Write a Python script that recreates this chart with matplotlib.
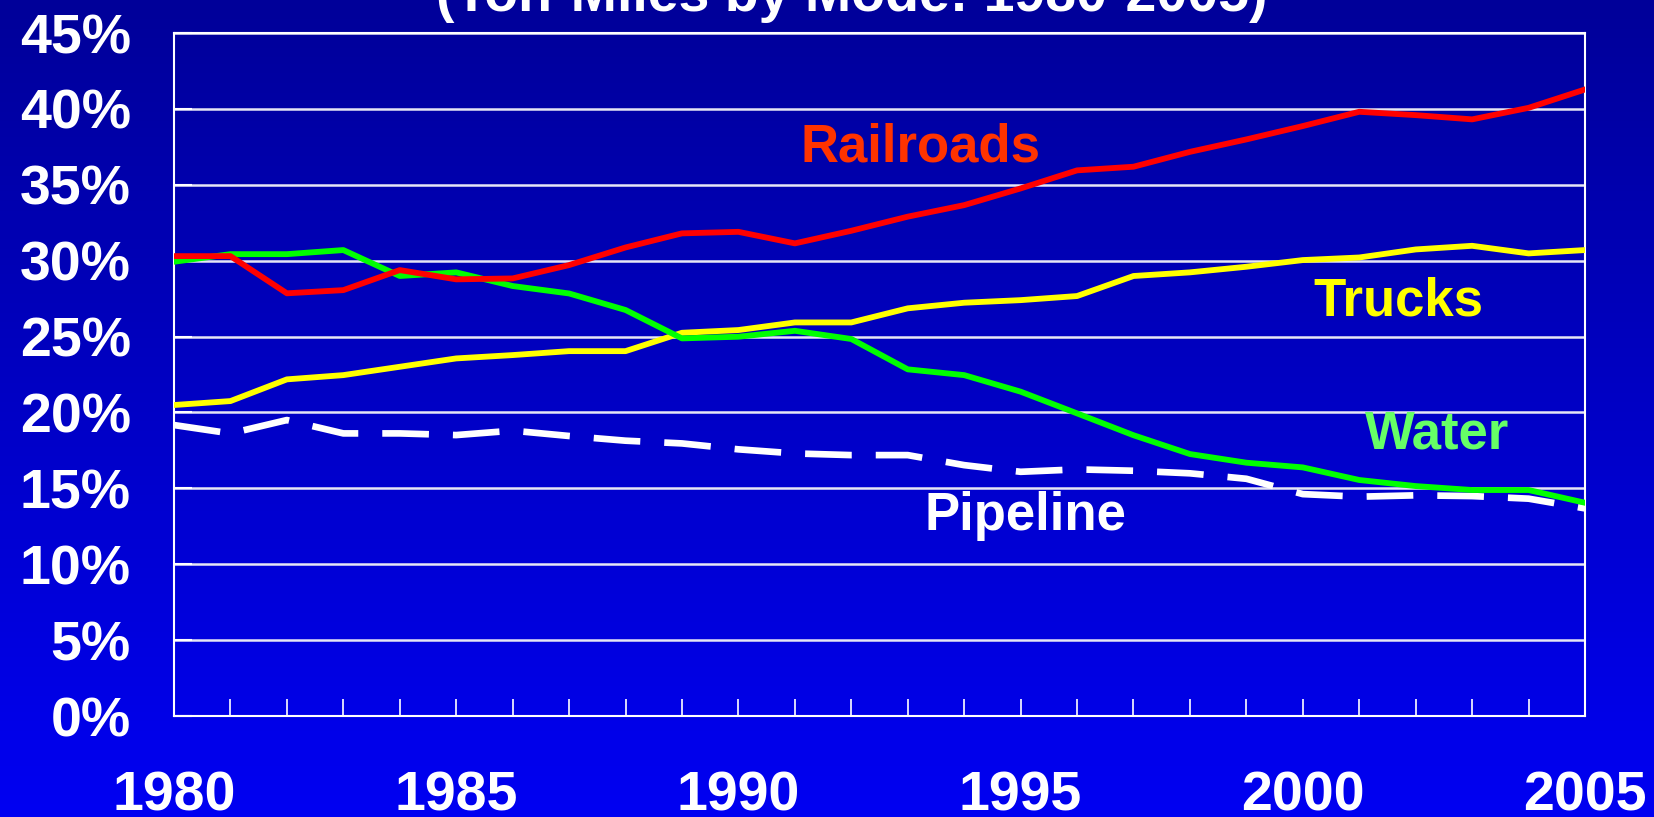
import matplotlib
matplotlib.use("Agg")
import matplotlib.pyplot as plt
import numpy as np

plt.rcParams["font.family"] = ["Liberation Sans", "DejaVu Sans"]
plt.rcParams["font.weight"] = "bold"

# shares of ton-miles by mode, percent
years = list(range(1980, 2006))
railroads = [30.3, 30.3, 27.85, 28.06, 29.38, 28.77, 28.83, 29.71, 30.87, 31.8,
             31.9, 31.14, 31.97, 32.9, 33.66, 34.76, 35.95, 36.19, 37.17, 37.99,
             38.87, 39.81, 39.59, 39.31, 40.07, 41.28]
trucks = [20.49, 20.75, 22.18, 22.46, 23.01, 23.56, 23.78, 24.04, 24.04, 25.25,
          25.43, 25.93, 25.93, 26.86, 27.23, 27.4, 27.67, 28.99, 29.23, 29.6,
          30.04, 30.21, 30.74, 30.98, 30.48, 30.7]
water = [29.93, 30.43, 30.43, 30.7, 28.99, 29.23, 28.33, 27.84, 26.75, 24.88,
         24.99, 25.38, 24.84, 22.84, 22.46, 21.37, 19.94, 18.5, 17.26, 16.69,
         16.38, 15.55, 15.15, 14.89, 14.89, 14.05]
pipeline = [19.17, 18.62, 19.5, 18.62, 18.62, 18.51, 18.8, 18.45, 18.14, 17.96,
            17.57, 17.3, 17.19, 17.19, 16.53, 16.09, 16.25, 16.16, 15.99, 15.63,
            14.62, 14.45, 14.54, 14.49, 14.32, 13.68]

y_ticks = list(range(0, 50, 5))
y_tick_labels = [f"{v}%" for v in y_ticks]
x_ticks = [1980, 1985, 1990, 1995, 2000, 2005]

fig = plt.figure(figsize=(16.54, 8.17), dpi=100)

# gradient background, dark navy at top to bright blue at bottom
bg = fig.add_axes([0, 0, 1, 1], zorder=0)
grad = np.linspace(0, 1, 256).reshape(-1, 1)
top = np.array([0.0, 0.0, 0.60])
bot = np.array([0.0, 0.0, 0.95])
img = top + (bot - top) * grad[..., None]
bg.imshow(img.reshape(256, 1, 3), aspect="auto", extent=[0, 1, 0, 1])
bg.set_axis_off()

ax = fig.add_axes([0.1052, 0.1236, 0.8531, 0.836], zorder=1)
ax.set_facecolor("none")

ax.plot(years, railroads, color="#FF0000", lw=4.2, zorder=4)
ax.plot(years, trucks, color="#FFFF00", lw=4.2, zorder=3)
ax.plot(years, water, color="#00FF00", lw=4.2, zorder=3)
ax.plot(years, pipeline, color="white", lw=4.8, dashes=(7, 3.6), zorder=2)

lab = dict(fontsize=38, fontweight="bold", ha="center", va="baseline")
ax.text(1993.22, 36.56, "Railroads", color="#FF3300", **lab)
ax.text(2001.69, 26.42, "Trucks", color="#FFFF00", **lab)
ax.text(2002.38, 17.64, "Water", color="#66FF66", **lab)
ax.text(1995.09, 12.25, "Pipeline", color="white", **lab)

ax.set_xlim(1980, 2005)
ax.set_ylim(0, 45)
ax.set_yticks(y_ticks)
ax.set_yticklabels(y_tick_labels)
ax.set_xticks(x_ticks)
ax.set_xticks(years, minor=True)
ax.grid(axis="y", color="#E6E6F5", lw=1.8, zorder=1)
ax.tick_params(axis="y", direction="in", length=13, width=1.5, color="white",
               labelcolor="white", labelsize=40, pad=31)
ax.tick_params(axis="x", which="major", direction="in", length=12, width=1.2,
               color="white", labelcolor="white", labelsize=40, pad=39)
ax.tick_params(axis="x", which="minor", direction="in", length=12, width=1.2,
               color="white")
for s in ax.spines.values():
    s.set_color("white")
    s.set_linewidth(1.5)

fig.text(0.515, 1 - 11 / 817, "(Ton-Miles by Mode: 1980-2005)", color="white",
         fontsize=40, fontweight="bold", ha="center", va="baseline")

fig.savefig("out.png", dpi=100)
